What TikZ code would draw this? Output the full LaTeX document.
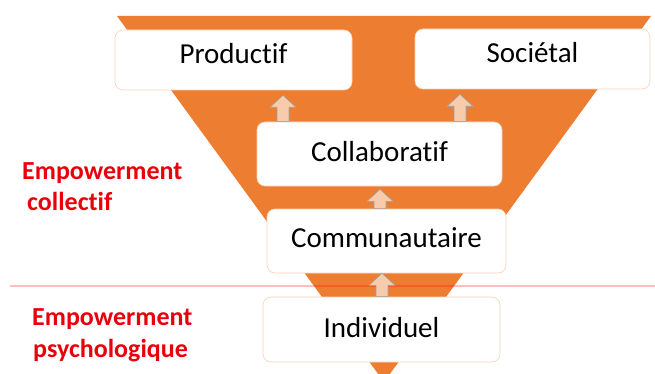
\documentclass[tikz,border=0pt]{standalone}
\usepackage{fontspec}
\setmainfont{Carlito}[Ligatures=NoCommon]
\usetikzlibrary{calc}
\definecolor{orng}{HTML}{ED7D31}
\definecolor{peach}{HTML}{F8CBAD}
\definecolor{redlbl}{HTML}{E8000B}
\tikzset{
  box/.style={draw=orng!35, line width=0.6pt, fill=white, rounded corners=8pt,
    font=\fontsize{29}{34}\selectfont, inner sep=0, text height=20pt},
  lbl/.style={text=redlbl, font=\bfseries\fontsize{26}{30}\selectfont, anchor=base west, inner sep=0},
  blk/.style={fill=peach, draw=gray!75, line width=0.6pt, line join=miter},
  sepline/.style={draw=red, draw opacity=0.25, line width=1.2pt},
}
\newcommand\blockarr[2]{\draw[blk] let \p1=(#1), \p2=(#2) in
  (\x1-6pt,\y1) -- (\x1-6pt,\y2-12pt) -- (\x1-13pt,\y2-12pt) -- (\x1,\y2)
  -- (\x1+13pt,\y2-12pt) -- (\x1+6pt,\y2-12pt) -- (\x1+6pt,\y1) -- cycle;}
\begin{document}
\begin{tikzpicture}[x=1pt,y=-1pt]
\useasboundingbox (0,0) rectangle (655,374);
\begin{scope}
  \clip (0,0) rectangle (655,374);
  \fill[orng] (117,16) -- (651,16) -- (384,382) -- cycle;
\end{scope}
\coordinate (lineL) at (10,286);
\coordinate (lineR) at (655,286);
\draw[sepline] (lineL) -- (lineR);

\node[box, minimum width=237, minimum height=60, text depth=12pt] (prod) at (233.5,60) {Productif};
\node[box, minimum width=235, minimum height=60, text depth=12pt] (soc) at (532.5,59) {Sociétal};
\node[box, minimum width=245, minimum height=64, text depth=6pt] (collab) at (379.5,154) {Collaboratif};
\node[box, minimum width=239, minimum height=64, text depth=8pt] (commun) at (386.5,241) {Communautaire};
\node[box, minimum width=237, minimum height=65, text depth=5pt] (indiv) at (381.5,329.5) {Individuel};

\coordinate (a1) at (283,0);
\coordinate (a2) at (460,0);
\coordinate (a3) at (380,0);
\coordinate (a4) at (382,0);
\blockarr{collab.north -| a1}{$(prod.south -| a1)+(0,5)$}
\blockarr{collab.north -| a2}{$(soc.south -| a2)+(0,5)$}
\blockarr{commun.north -| a3}{$(collab.south -| a3)+(0,3)$}
\blockarr{indiv.north -| a4}{commun.south -| a4}

\node[lbl] (ec1) at (22,179) {Empowerment};
\node[lbl] (ec2) at (27,210) {collectif};
\node[lbl] (ep1) at (32,325) {Empowerment};
\node[lbl] (ep2) at (33,357) {psychologique};
\end{tikzpicture}
\end{document}
